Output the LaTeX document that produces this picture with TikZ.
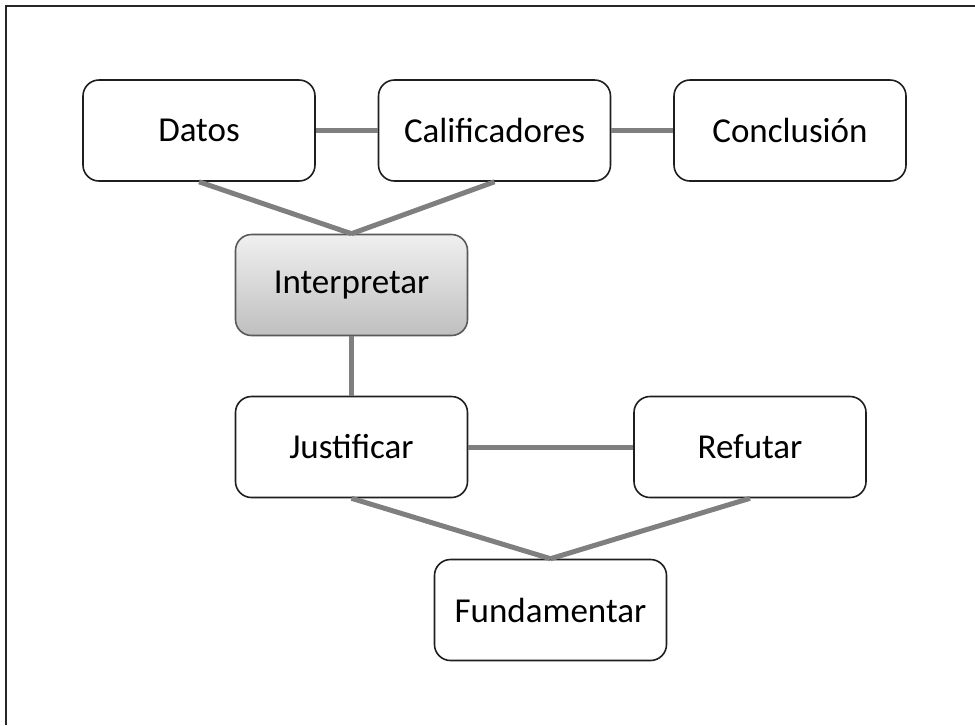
\documentclass[tikz,border=0pt]{standalone}
\usepackage{fontspec}
\setmainfont{Carlito}
\usepackage{tikz}

\definecolor{linkgray}{RGB}{125,128,125}
\definecolor{boxline}{RGB}{30,30,30}

\begin{document}
\begin{tikzpicture}
[
    x = 0.5pt, y = -0.5pt,
    stepbox/.style = {draw = boxline, line width = 0.8pt, rounded corners = 8pt,
        fill = white, minimum width = 116pt, minimum height = 50.5pt,
        inner sep = 0pt, font = \fontsize{17.5}{21}\selectfont},
    keybox/.style = {stepbox, draw = black!65, top color = black!6, bottom color = black!25},
    link/.style = {draw = linkgray, line width = 2.5pt},
]
    \useasboundingbox (0,0) rectangle (975,725);
    % marco
    \draw[line width = 0.8pt, black!85] (6,725) -- (6,6) -- (975,6);

    \node[stepbox] (datos) at (199,130.5) {Datos};
    \node[stepbox] (calif) at (494.5,130.5) {Calificadores};
    \node[stepbox] (concl) at (790,130.5) {Conclusión};
    \node[keybox] (interp) at (351.5,285) {Interpretar};
    \node[stepbox] (justif) at (351.5,447) {Justificar};
    \node[stepbox] (refut) at (750,447) {Refutar};
    \node[stepbox] (fund) at (550.5,610) {Fundamentar};

    \draw[link] (datos) -- (calif);
    \draw[link] (calif) -- (concl);
    \draw[link] (datos.south) -- (interp.north);
    \draw[link] (calif.south) -- (interp.north);
    \draw[link] (interp) -- (justif);
    \draw[link] (justif) -- (refut);
    \draw[link] (justif.south) -- (fund.north);
    \draw[link] (refut.south) -- (fund.north);
\end{tikzpicture}
\end{document}
